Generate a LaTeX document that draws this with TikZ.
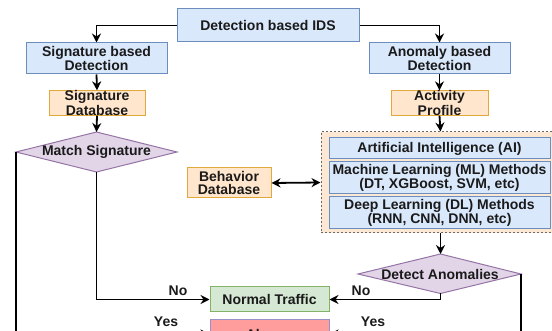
\documentclass[tikz,border=0pt]{standalone}
\usepackage{fontspec}
\setmainfont{Liberation Sans}
\usetikzlibrary{arrows.meta}
\definecolor{bfill}{HTML}{DAE8FC}
\definecolor{bdraw}{HTML}{6C8EBF}
\definecolor{ofill}{HTML}{FFE6CC}
\definecolor{odraw}{HTML}{E0A93A}
\definecolor{pfill}{HTML}{E1D5E7}
\definecolor{pdraw}{HTML}{9673A6}
\definecolor{gfill}{HTML}{D5E8D4}
\definecolor{gdraw}{HTML}{82B366}
\definecolor{rfill}{HTML}{FF9C9C}
\definecolor{rdraw}{HTML}{9A90C8}
\definecolor{cfill}{HTML}{FDE8D3}
\definecolor{cdraw}{HTML}{6A6A6A}
\definecolor{txt}{HTML}{1A1A1A}
\begin{document}
\begin{tikzpicture}[x=1pt,y=-1pt,
  every node/.style={font=\fontsize{14}{13}\selectfont\bfseries, text=txt, align=center, inner sep=0pt},
  bluebox/.style={draw=bdraw, fill=bfill, line width=1pt},
  orangebox/.style={draw=odraw, fill=ofill, line width=1pt},
  greenbox/.style={draw=gdraw, fill=gfill, line width=1pt},
  redbox/.style={draw=rdraw, fill=rfill, line width=1pt},
  container/.style={draw=cdraw, fill=cfill, line width=1pt, dash pattern=on 2pt off 2pt},
  decision/.style={draw=pdraw, fill=pfill, line width=1pt},
  arr/.style={draw=black, line width=1.8pt, -{Stealth[length=9pt,width=9pt]}},
  arrboth/.style={draw=black, line width=1.8pt, {Stealth[length=9pt,width=9pt]}-{Stealth[length=9pt,width=9pt]}},
  lbl/.style={font=\fontsize{14}{13}\selectfont\bfseries}
]
\useasboundingbox (0,0) rectangle (552,331);
\clip (0,0) rectangle (552,331);

% top
\node[bluebox, minimum width=182pt, minimum height=33pt] (ids) at (268,25.5) {Detection based IDS};

% left branch
\node[bluebox, minimum width=141pt, minimum height=31pt] (sig) at (96.5,58.5) {Signature based\\Detection};
\node[orangebox, minimum width=96pt, minimum height=24pt] (sigdb) at (97,103) {Signature\\Database};
\coordinate (ms-l) at (16,152);
\coordinate (ms-r) at (177,152);
\coordinate (ms-t) at (96.5,132);
\coordinate (ms-b) at (96.5,172);
\draw[decision] (ms-l) -- (ms-t) -- (ms-r) -- (ms-b) -- cycle;
\node (ms) at (96.5,152) {Match Signature};

% right branch
\node[bluebox, minimum width=141pt, minimum height=31pt] (ano) at (439.5,58.5) {Anomaly based\\Detection};
\node[orangebox, minimum width=97pt, minimum height=24pt] (act) at (439.5,103) {Activity\\Profile};
\node[container, minimum width=239pt, minimum height=101pt] (cont) at (440.5,182.5) {};
\node[bluebox, minimum width=221pt, minimum height=21pt] (ai) at (439.5,148.5) {Artificial Intelligence (AI)};
\node[bluebox, minimum width=221pt, minimum height=32pt] (ml) at (439.5,178) {Machine Learning (ML) Methods\\(DT, XGBoost, SVM, etc)};
\node[bluebox, minimum width=221pt, minimum height=32pt] (dl) at (439.5,213) {Deep Learning (DL) Methods\\(RNN, CNN, DNN, etc)};
\node[orangebox, minimum width=84pt, minimum height=30pt] (beh) at (229,183) {Behavior\\Database};

\coordinate (da-l) at (358,274);
\coordinate (da-r) at (521,274);
\coordinate (da-t) at (440.5,254);
\coordinate (da-b) at (440.5,293.5);
\draw[decision] (da-l) -- (da-t) -- (da-r) -- (da-b) -- cycle;
\node (da) at (440,274) {Detect Anomalies};

% outcomes
\node[greenbox, minimum width=119pt, minimum height=25pt] (normal) at (269.5,299.5) {Normal Traffic};
\node[redbox, minimum width=119pt, minimum height=28pt] (alarms) at (269.5,334) {Alarms};

% connectors
\draw[arr] (ids.west) -| (sig.north);
\draw[arr] (ids.east) -| (ano.north);
\draw[arr] (sig.south) -- (sigdb.north);
\draw[arr] (sigdb.south) -- (ms-t);
\draw[arr] (ms-b) |- (normal.west);
\draw[arr] (ms-l) |- (alarms.west);
\draw[arr] (ano.south) -- (act.north);
\draw[arr] (act.south) -- (cont.north);
\draw[arrboth] (beh.east) -- (cont.west);
\draw[arr] (cont.south) -- (da-t);
\draw[arr] (da-b) |- (normal.east);
\draw[arr] (da-r) |- (alarms.east);

% labels
\node[lbl] (no1) at (178,291) {No};
\node[lbl] (no2) at (361,291) {No};
\node[lbl] (yes1) at (166,322) {Yes};
\node[lbl] (yes2) at (373,322) {Yes};
\end{tikzpicture}
\end{document}
